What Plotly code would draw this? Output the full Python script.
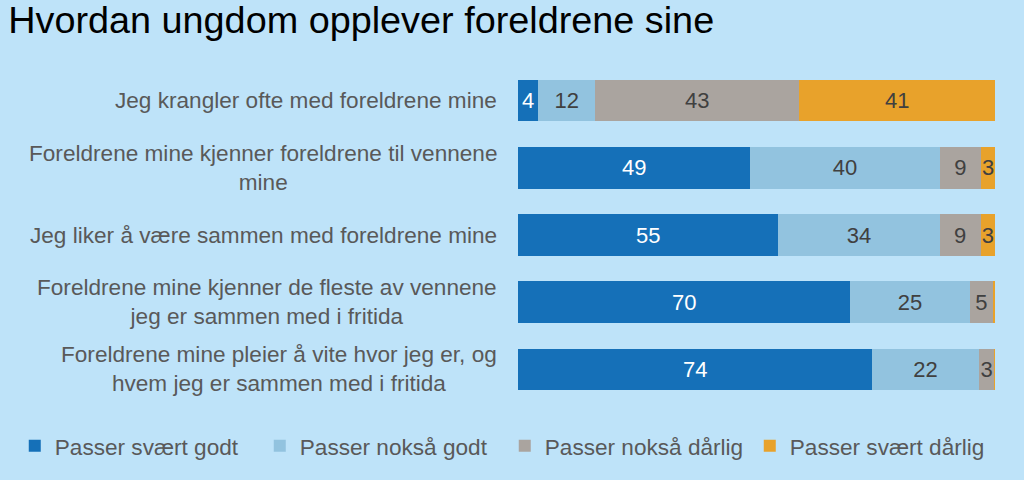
import plotly.graph_objects as go

title = "Hvordan ungdom opplever foreldrene sine"
categories = [
    "Jeg krangler ofte med foreldrene mine",
    "Foreldrene mine kjenner foreldrene til vennene<br>mine",
    "Jeg liker å være sammen med foreldrene mine",
    "Foreldrene mine kjenner de fleste av vennene<br>jeg er sammen med i fritida",
    "Foreldrene mine pleier å vite hvor jeg er, og<br>hvem jeg er sammen med i fritida",
]
series_names = ["Passer svært godt", "Passer nokså godt", "Passer nokså dårlig", "Passer svært dårlig"]
svaert_godt = [4.2, 48.7, 54.6, 69.7, 74.3]
noksaa_godt = [12.0, 39.7, 33.8, 25.0, 22.3]
noksaa_darlig = [42.8, 8.7, 8.6, 4.9, 3.3]
svaert_darlig = [41.0, 2.9, 3.0, 0.4, 0.1]

colors = ["#1570B8", "#92C3DF", "#AAA49F", "#E8A22B"]
text_colors = ["#FFFFFF", "#404040", "#404040", "#404040"]
FONT = "Arial, Liberation Sans, sans-serif"

fig = go.Figure()
for name, vals, c, tc in zip(series_names, [svaert_godt, noksaa_godt, noksaa_darlig, svaert_darlig], colors, text_colors):
    fig.add_trace(go.Bar(
        y=categories, x=vals, name=name, orientation="h",
        marker=dict(color=c, line=dict(width=0)),
        text=[f"{v:.0f}" if v >= 1 else "" for v in vals],
        texttemplate="%{text}", textposition="inside", insidetextanchor="middle",
        textfont=dict(color=tc, size=22, family=FONT),
        hoverinfo="skip",
    ))

for cat in categories:
    fig.add_annotation(x=0, xref="paper", y=cat, yref="y", text=cat, showarrow=False,
                       xanchor="right", align="center", xshift=-19,
                       font=dict(size=22.6, color="#595959", family=FONT))

fig.update_layout(
    barmode="stack", bargap=0.38,
    width=1024, height=480,
    paper_bgcolor="#BEE3F9", plot_bgcolor="#BEE3F9",
    margin=dict(l=518, r=29, t=67, b=69),
    title=dict(text=title, x=0.008, xanchor="left", y=0.958, yanchor="middle",
               font=dict(size=37.8, color="#000000", family=FONT)),
    xaxis=dict(range=[0, 100], visible=False),
    yaxis=dict(categoryorder="array", categoryarray=categories, autorange="reversed",
               showticklabels=False, showgrid=False, zeroline=False),
    legend=dict(orientation="h", x=-1.055, xanchor="left",
                y=-0.128, yanchor="middle", font=dict(size=22.6, color="#595959", family=FONT),
                entrywidth=200, entrywidthmode="pixels",
                traceorder="normal", bgcolor="rgba(0,0,0,0)"),
    uniformtext=dict(minsize=22, mode="show"),
    showlegend=True,
)
fig.write_html("out.html", config={"displayModeBar": False},
               post_script="document.body.style.margin='0';document.body.style.overflow='hidden';")
